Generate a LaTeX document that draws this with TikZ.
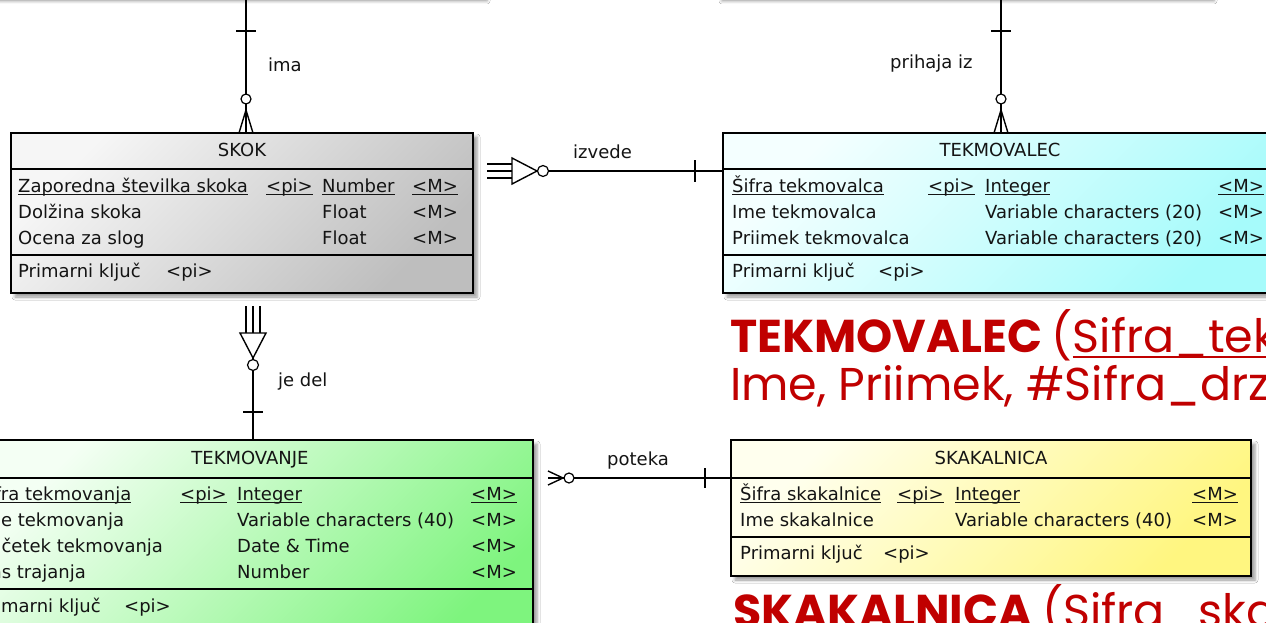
\documentclass[tikz,border=0pt]{standalone}
\usepackage{fontspec}
\setmainfont{DejaVu Sans}
\newfontfamily\redfont{Poppins}
\usetikzlibrary{shadows.blur}
\definecolor{redtxt}{HTML}{C00000}
\definecolor{grayTL}{HTML}{F6F6F6}
\definecolor{grayBR}{HTML}{BEBEBE}
\definecolor{cyanTL}{HTML}{F4FFFF}
\definecolor{cyanBR}{HTML}{A6FBFB}
\definecolor{greenTL}{HTML}{F4FFF4}
\definecolor{greenBR}{HTML}{7EF47E}
\definecolor{yelTL}{HTML}{FFFFEE}
\definecolor{yelBR}{HTML}{FFF680}
\newsavebox\ulbox
\newcommand\ulx[1]{\sbox\ulbox{#1}\rlap{\rule[-2.6pt]{\wd\ulbox}{1.1pt}}\usebox\ulbox}
\newcommand\ulr[1]{\sbox\ulbox{#1}\rlap{\rule[-6pt]{\wd\ulbox}{2pt}}\usebox\ulbox}
\newcommand\efont{\fontsize{18}{21}\selectfont}
\newcommand\rfont{\redfont\fontsize{46}{52}\selectfont}
\tikzset{
  entity/.style={draw=black, line width=1.4pt, inner sep=0pt, outer sep=0pt, anchor=north west,
    blur shadow={shadow xshift=4pt, shadow yshift=-4pt, shadow blur radius=3pt, shadow opacity=40}},
  grayfill/.style={top color=grayTL, bottom color=grayBR, shading angle=45},
  cyanfill/.style={top color=cyanTL, bottom color=cyanBR, shading angle=45},
  greenfill/.style={top color=greenTL, bottom color=greenBR, shading angle=45},
  yelfill/.style={top color=yelTL, bottom color=yelBR, shading angle=45},
  sepline/.style={line width=1.4pt},
  txt/.style={anchor=base west, inner sep=0pt, font=\efont, text=black!92},
  hdr/.style={anchor=base, inner sep=0pt, font=\efont, text=black!92},
  conn/.style={line width=1.4pt},
  endmark/.style={line width=1.4pt},
  ring/.style={line width=1.2pt, fill=white},
  redt/.style={anchor=base west, inner sep=0pt, font=\rfont, text=redtxt},
}
\begin{document}
\begin{tikzpicture}[x=1pt,y=-1pt]
\useasboundingbox (0,0) rectangle (1266,623);
\clip (0,0) rectangle (1266,623);
\fill[white] (0,0) rectangle (1266,623);

% entities above the visible area (only their shadows show)
\node[entity, anchor=south west, fill=white, minimum width=503pt, minimum height=60pt] (upL) at (-20,-3) {};
\node[entity, anchor=south west, fill=white, minimum width=492pt, minimum height=60pt] (upR) at (718,-3) {};

% ---------------- SKOK ----------------
\node[entity, grayfill, minimum width=462pt, minimum height=160pt] (skok) at (11,133) {};
\draw[sepline] (skok.west |- 0,169) -- (skok.east |- 0,169);
\draw[sepline] (skok.west |- 0,255) -- (skok.east |- 0,255);
\node[hdr] (skokH) at (242,156.5) {SKOK};
\node[txt] (skokA1) at (18,192.5) {\ulx{Zaporedna številka skoka}};
\node[txt] (skokA2) at (18,218.5) {Dolžina skoka};
\node[txt] (skokA3) at (18,244.5) {Ocena za slog};
\node[txt] (skokP1) at (266,192.5) {\ulx{<pi>}};
\node[txt] (skokT1) at (322,192.5) {\ulx{Number}};
\node[txt] (skokT2) at (322,218.5) {Float};
\node[txt] (skokT3) at (322,244.5) {Float};
\node[txt] (skokM1) at (412,192.5) {\ulx{<M>}};
\node[txt] (skokM2) at (412,218.5) {<M>};
\node[txt] (skokM3) at (412,244.5) {<M>};
\node[txt] (skokK) at (18,277.5) {Primarni ključ};
\node[txt] (skokKp) at (166,277.5) {<pi>};

% ---------------- TEKMOVALEC ----------------
\node[entity, cyanfill, minimum width=554pt, minimum height=160pt] (tkc) at (723,133) {};
\draw[sepline] (tkc.west |- 0,169) -- (tkc.east |- 0,169);
\draw[sepline] (tkc.west |- 0,255) -- (tkc.east |- 0,255);
\node[hdr] (tkcH) at (1000,156.5) {TEKMOVALEC};
\node[txt] (tkcA1) at (732,192.5) {\ulx{Šifra tekmovalca}};
\node[txt] (tkcA2) at (732,218.5) {Ime tekmovalca};
\node[txt] (tkcA3) at (732,244.5) {Priimek tekmovalca};
\node[txt] (tkcP1) at (928,192.5) {\ulx{<pi>}};
\node[txt] (tkcT1) at (985,192.5) {\ulx{Integer}};
\node[txt] (tkcT2) at (985,218.5) {Variable characters (20)};
\node[txt] (tkcT3) at (985,244.5) {Variable characters (20)};
\node[txt] (tkcM1) at (1218,192.5) {\ulx{<M>}};
\node[txt] (tkcM2) at (1218,218.5) {<M>};
\node[txt] (tkcM3) at (1218,244.5) {<M>};
\node[txt] (tkcK) at (732,277.5) {Primarni ključ};
\node[txt] (tkcKp) at (878,277.5) {<pi>};

% ---------------- TEKMOVANJE ----------------
\node[entity, greenfill, minimum width=566pt, minimum height=220pt] (tkv) at (-33,440) {};
\draw[sepline] (tkv.west |- 0,478) -- (tkv.east |- 0,478);
\draw[sepline] (tkv.west |- 0,589) -- (tkv.east |- 0,589);
\node[hdr] (tkvH) at (250,464.5) {TEKMOVANJE};
\node[txt] (tkvA1) at (-22,500.5) {\ulx{Šifra tekmovanja}};
\node[txt] (tkvA2) at (-22,526.5) {Ime tekmovanja};
\node[txt] (tkvA3) at (-22,552.5) {Začetek tekmovanja};
\node[txt] (tkvA4) at (-22,578.5) {Čas trajanja};
\node[txt] (tkvP1) at (180,500.5) {\ulx{<pi>}};
\node[txt] (tkvT1) at (237,500.5) {\ulx{Integer}};
\node[txt] (tkvT2) at (237,526.5) {Variable characters (40)};
\node[txt] (tkvT3) at (237,552.5) {Date \& Time};
\node[txt] (tkvT4) at (237,578.5) {Number};
\node[txt] (tkvM1) at (471,500.5) {\ulx{<M>}};
\node[txt] (tkvM2) at (471,526.5) {<M>};
\node[txt] (tkvM3) at (471,552.5) {<M>};
\node[txt] (tkvM4) at (471,578.5) {<M>};
\node[txt] (tkvK) at (-22,612.5) {Primarni ključ};
\node[txt] (tkvKp) at (124,612.5) {<pi>};

% ---------------- SKAKALNICA ----------------
\node[entity, yelfill, minimum width=520pt, minimum height=136pt] (skl) at (731,440) {};
\draw[sepline] (skl.west |- 0,478) -- (skl.east |- 0,478);
\draw[sepline] (skl.west |- 0,537) -- (skl.east |- 0,537);
\node[hdr] (sklH) at (991,464.5) {SKAKALNICA};
\node[txt] (sklA1) at (740,500.5) {\ulx{Šifra skakalnice}};
\node[txt] (sklA2) at (740,526.5) {Ime skakalnice};
\node[txt] (sklP1) at (897,500.5) {\ulx{<pi>}};
\node[txt] (sklT1) at (955,500.5) {\ulx{Integer}};
\node[txt] (sklT2) at (955,526.5) {Variable characters (40)};
\node[txt] (sklM1) at (1192,500.5) {\ulx{<M>}};
\node[txt] (sklM2) at (1192,526.5) {<M>};
\node[txt] (sklK) at (740,559.5) {Primarni ključ};
\node[txt] (sklKp) at (883,559.5) {<pi>};

% ---------------- connectors ----------------
% ima
\coordinate (imaX) at (246,0);
\draw[conn] (upL.south -| imaX) -- (skok.north -| imaX);
\draw[endmark] (236,31) -- (256,31);
\draw[endmark] (239,133) -- (246,110) -- (253,133);
\draw[ring] (246,99) circle[radius=5pt];
\node[txt] (imaL) at (268,72) {ima};

% prihaja iz
\coordinate (prX) at (1001,0);
\draw[conn] (upR.south -| prX) -- (tkc.north -| prX);
\draw[endmark] (991,31) -- (1011,31);
\draw[endmark] (994,133) -- (1001,110) -- (1008,133);
\draw[ring] (1001,99) circle[radius=5pt];
\node[txt] (prL) at (890,69) {prihaja iz};

% izvede
\coordinate (izA) at (487,171);
\draw[conn] (izA) -- (tkc.west |- izA);
\draw[endmark] (487,164) -- (512,164);
\draw[endmark] (487,178) -- (512,178);
\draw[endmark, fill=white] (512,158) -- (512,184) -- (537,171) -- cycle;
\draw[ring] (543,171) circle[radius=5.5pt];
\draw[endmark] (695,160) -- (695,182);
\node[txt] (izL) at (573,158) {izvede};

% je del
\coordinate (jdA) at (253,306);
\draw[conn] (jdA) -- (tkv.north -| jdA);
\draw[endmark] (246,306) -- (246,333);
\draw[endmark] (260,306) -- (260,333);
\draw[endmark, fill=white] (240,333) -- (266,333) -- (253,358) -- cycle;
\draw[ring] (253,365) circle[radius=5.5pt];
\draw[endmark] (243,412) -- (263,412);
\node[txt] (jdL) at (278,386) {je del};

% poteka
\coordinate (ptA) at (548,478);
\draw[conn] (ptA) -- (skl.west |- ptA);
\draw[endmark] (548,471) -- (563,478) -- (548,485);
\draw[ring] (569,478) circle[radius=5pt];
\draw[endmark] (705,468) -- (705,488);
\node[txt] (ptL) at (607,465) {poteka};

% ---------------- red relational text ----------------
\node[redt] (relTkc1) at (730,352) {\bfseries TEKMOVALEC \mdseries(\ulr{Sifra\_tekmovalca},};
\node[redt] (relTkc2) at (730,400) {Ime, Priimek, \#Sifra\_drzave)};
\node[redt] (relSkl) at (733,627) {\bfseries SKAKALNICA \mdseries(Sifra\_skakalnice,};
\end{tikzpicture}
\end{document}
